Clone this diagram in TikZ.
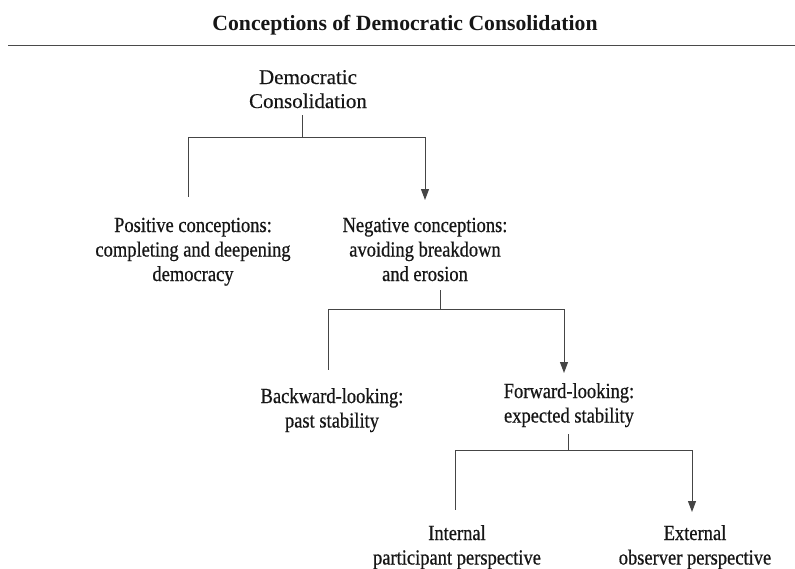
\documentclass[tikz,border=0pt]{standalone}
\usepackage{fontspec}
\setmainfont{Liberation Serif}
\newfontfamily\bodyfont[FakeStretch=0.86,FakeBold=0.6]{Liberation Serif}
\newfontfamily\rootfont[FakeBold=0.4]{Liberation Serif}
\usetikzlibrary{arrows.meta}
\definecolor{ink}{HTML}{161616}
\definecolor{rulegray}{HTML}{4A4A4A}
\newcommand{\lines}[1]{\begin{tabular}[t]{@{}c@{}}#1\end{tabular}}
\tikzset{
  label text/.style={anchor=base, inner sep=0pt, text=ink,
    font=\bodyfont\fontsize{21.5}{24.5}\selectfont},
  root text/.style={anchor=base, inner sep=0pt, text=ink,
    font=\rootfont\fontsize{21}{24}\selectfont},
  heading/.style={anchor=base, inner sep=0pt, text=ink,
    font=\bfseries\fontsize{21.7}{26}\selectfont},
  link/.style={draw=ink!80, line width=1pt},
  arrowlink/.style={link, -{Triangle[width=8pt,length=11pt]}}
}
\begin{document}
\begin{tikzpicture}[x=1pt, y=-1pt]
\useasboundingbox (0,0) rectangle (795,568);

% heading and rule
\node[heading] (title) at (405,30) {Conceptions of Democratic Consolidation};
\coordinate (ruleL) at (8,45.5);
\coordinate (ruleR) at (795,45.5);
\draw[draw=rulegray, line width=1.5pt] (ruleL) -- (ruleR);

% concept nodes (positioned by first baseline)
\node[root text] (root) at (308,84) {\lines{Democratic\\Consolidation}};
\node[label text] (pos) at (193,232) {\lines{Positive conceptions:\\completing and deepening\\democracy}};
\node[label text] (neg) at (425,232) {\lines{Negative conceptions:\\avoiding breakdown\\and erosion}};
\node[label text] (back) at (332,403) {\lines{Backward-looking:\\past stability}};
\node[label text] (fwd) at (569,398) {\lines{Forward-looking:\\expected stability}};
\node[label text] (int) at (457,540) {\lines{Internal\\participant perspective}};
\node[label text] (ext) at (695,540) {\lines{External\\observer perspective}};

% branch points
\coordinate (rootStem) at (302,115);
\coordinate (rootJ) at (302,137);
\coordinate (posTop) at (188,197);
\coordinate (negTop) at (425,200);

\coordinate (negStem) at (440,290);
\coordinate (negJ) at (440,309);
\coordinate (backTop) at (328,370);
\coordinate (fwdTop) at (564,373);

\coordinate (fwdStem) at (568,434);
\coordinate (fwdJ) at (568,450);
\coordinate (intTop) at (455,510);
\coordinate (extTop) at (692,512);

% first split
\draw[link] (rootStem) -- (rootJ);
\draw[link] (rootJ) -- (rootJ -| posTop) -- (posTop);
\draw[arrowlink] (rootJ) -- (rootJ -| negTop) -- (negTop);

% second split
\draw[link] (negStem) -- (negJ);
\draw[link] (negJ) -- (negJ -| backTop) -- (backTop);
\draw[arrowlink] (negJ) -- (negJ -| fwdTop) -- (fwdTop);

% third split
\draw[link] (fwdStem) -- (fwdJ);
\draw[link] (fwdJ) -- (fwdJ -| intTop) -- (intTop);
\draw[arrowlink] (fwdJ) -- (fwdJ -| extTop) -- (extTop);
\end{tikzpicture}
\end{document}
